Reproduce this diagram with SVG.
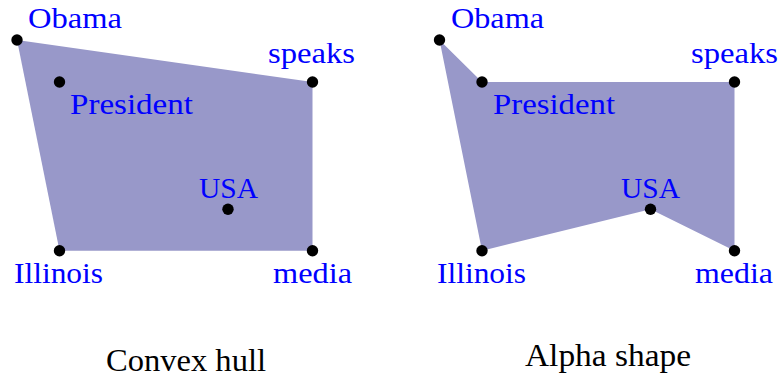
<svg xmlns="http://www.w3.org/2000/svg" width="781" height="377" viewBox="0 0 781 377">
<style>
.hull{fill:#9898c9;stroke:none}
.dot{fill:#000}
.lbl{font-family:"Liberation Serif","Times New Roman",serif;font-size:30px;fill:#0000ff}
.cap{font-family:"Liberation Serif","Times New Roman",serif;font-size:31px;fill:#000}
</style>
<rect width="781" height="377" fill="#fff"/>
<g id="connectors">
<polygon class="hull" points="17,40 312.5,82 312.5,250.7 59.5,250.7"/>
<polygon class="hull" points="439.5,40 482,82 734.5,82 734.5,250.7 650.5,209.3 482,250.7"/>
</g>
<g id="L-Obama"><circle class="dot" cx="17" cy="40" r="5.7"/><text class="lbl" x="28" y="28" textLength="94" lengthAdjust="spacingAndGlyphs">Obama</text></g>
<g id="L-President"><circle class="dot" cx="59.5" cy="82" r="5.7"/><text class="lbl" x="70" y="114" textLength="123" lengthAdjust="spacingAndGlyphs">President</text></g>
<g id="L-speaks"><circle class="dot" cx="312.5" cy="82" r="5.7"/><text class="lbl" x="268" y="63" textLength="87" lengthAdjust="spacingAndGlyphs">speaks</text></g>
<g id="L-USA"><circle class="dot" cx="228" cy="209.3" r="5.7"/><text class="lbl" x="199" y="198" textLength="59" lengthAdjust="spacingAndGlyphs">USA</text></g>
<g id="L-Illinois"><circle class="dot" cx="59.5" cy="250.7" r="5.7"/><text class="lbl" x="14" y="283" textLength="89" lengthAdjust="spacingAndGlyphs">Illinois</text></g>
<g id="L-media"><circle class="dot" cx="312.5" cy="250.7" r="5.7"/><text class="lbl" x="273" y="283" textLength="79" lengthAdjust="spacingAndGlyphs">media</text></g>
<g id="R-Obama"><circle class="dot" cx="439.5" cy="40" r="5.7"/><text class="lbl" x="451" y="28" textLength="93" lengthAdjust="spacingAndGlyphs">Obama</text></g>
<g id="R-President"><circle class="dot" cx="482" cy="82" r="5.7"/><text class="lbl" x="493" y="114" textLength="122" lengthAdjust="spacingAndGlyphs">President</text></g>
<g id="R-speaks"><circle class="dot" cx="734.5" cy="82" r="5.7"/><text class="lbl" x="691" y="63" textLength="87" lengthAdjust="spacingAndGlyphs">speaks</text></g>
<g id="R-USA"><circle class="dot" cx="650.5" cy="209.3" r="5.7"/><text class="lbl" x="621" y="198" textLength="59" lengthAdjust="spacingAndGlyphs">USA</text></g>
<g id="R-Illinois"><circle class="dot" cx="482" cy="250.7" r="5.7"/><text class="lbl" x="437" y="283" textLength="89" lengthAdjust="spacingAndGlyphs">Illinois</text></g>
<g id="R-media"><circle class="dot" cx="734.5" cy="250.7" r="5.7"/><text class="lbl" x="695" y="283" textLength="78" lengthAdjust="spacingAndGlyphs">media</text></g>
<g id="captions">
<text class="cap" x="106" y="371" textLength="160" lengthAdjust="spacingAndGlyphs">Convex hull</text>
<text class="cap" x="525" y="366" textLength="166" lengthAdjust="spacingAndGlyphs">Alpha shape</text>
</g>
</svg>
